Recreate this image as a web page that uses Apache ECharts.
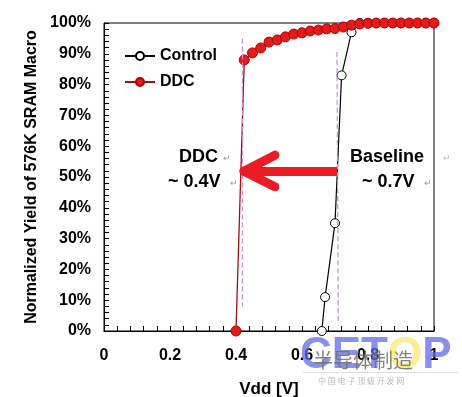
<!DOCTYPE html>
<html>
<head>
<meta charset="utf-8">
<script src="https://cdn.jsdelivr.net/npm/echarts@6/dist/echarts.min.js"></script>
<style>html,body{margin:0;padding:0;background:#fff}#c{width:462px;height:397px}</style>
</head>
<body>
<div id="c"></div>
<script>
// ---- data ----
var xTicks = [0, 0.2, 0.4, 0.6, 0.8, 1];
var yTicks = [0, 10, 20, 30, 40, 50, 60, 70, 80, 90, 100];
var ctrlX = [0.66, 0.67, 0.70, 0.72, 0.75, 0.775, 0.8, 0.825, 0.85, 0.875, 0.9, 0.925, 0.95, 0.975, 1.0];
var ctrlY = [0, 11, 35, 83, 97, 100, 100, 100, 100, 100, 100, 100, 100, 100, 100];
var ddcX = [0.4, 0.425, 0.45, 0.475, 0.5, 0.525, 0.55, 0.575, 0.6, 0.625, 0.65, 0.675, 0.7, 0.725, 0.75, 0.775, 0.8, 0.825, 0.85, 0.875, 0.9, 0.925, 0.95, 0.975, 1.0];
var ddcY = [0, 88, 90.3, 91.9, 93.8, 94.5, 95.5, 96.4, 96.8, 97.4, 97.7, 98.1, 98.2, 98.7, 99.3, 99.7, 99.9, 100, 100, 100, 100, 100, 100, 100, 100];
var guideDDC = [[0.418, 95], [0.418, 8]];
var guideBase = [[0.706, 90.6], [0.71, 3]];
var arrowShaft = [[0.706, 51.9], [0.43, 51.9]];
var arrowArmUp = [[0.424, 51.9], [0.518, 57.1]];
var arrowArmDown = [[0.424, 51.9], [0.518, 46.8]];

function zip(a, b) { return a.map(function (v, i) { return [v, b[i]]; }); }
var FF = 'Liberation Sans, Arial, sans-serif';

var chart = echarts.init(document.getElementById('c'), null, {renderer: 'canvas'});
chart.setOption({
  backgroundColor: '#fff',
  animation: false,
  grid: {left: 104, right: 28, top: 23, bottom: 66, show: true, borderColor: '#000', borderWidth: 1,
    containLabel: false, outerBoundsMode: 'none'},
  legend: {
    data: ['Control', 'DDC'], orient: 'vertical', left: 124, top: 48, padding: 0,
    itemWidth: 30, itemHeight: 10, itemGap: 10,
    textStyle: {fontFamily: FF, fontWeight: 'bold', fontSize: 16, color: '#000'}
  },
  xAxis: {
    type: 'value', min: 0, max: 1, interval: 0.2,
    name: 'Vdd [V]', nameLocation: 'middle', nameGap: 50,
    nameTextStyle: {fontFamily: FF, fontWeight: 'bold', fontSize: 17, color: '#000'},
    axisLine: {lineStyle: {color: '#000', width: 1}},
    axisTick: {inside: true, length: 5, lineStyle: {color: '#000'}},
    minorTick: {show: true, splitNumber: 5, length: 5, lineStyle: {color: '#000'}},
    splitLine: {show: false},
    axisLabel: {margin: 17, fontFamily: FF, fontWeight: 'bold', fontSize: 16, color: '#000',
      formatter: function (v) { return xTicks.indexOf(+v.toFixed(1)) >= 0 ? String(+v.toFixed(1)) : ''; }}
  },
  yAxis: {
    type: 'value', min: 0, max: 100, interval: 10,
    name: 'Normalized Yield of 576K SRAM Macro', nameLocation: 'middle', nameGap: 63, nameRotate: 90,
    nameTextStyle: {fontFamily: FF, fontWeight: 'bold', fontSize: 16, color: '#000'},
    axisLine: {show: true, lineStyle: {color: '#000', width: 1}},
    axisTick: {inside: true, length: 5, lineStyle: {color: '#000'}},
    minorTick: {show: true, splitNumber: 5, length: 5, lineStyle: {color: '#000'}},
    splitLine: {show: false},
    axisLabel: {margin: 13, fontFamily: FF, fontWeight: 'bold', fontSize: 16, color: '#000',
      formatter: function (v) { return yTicks.indexOf(Math.round(v)) >= 0 ? Math.round(v) + '%' : ''; }}
  },
  series: [
    {
      name: 'Control', type: 'line', data: zip(ctrlX, ctrlY),
      symbol: 'circle', symbolSize: 9,
      itemStyle: {color: '#fff', borderColor: '#000', borderWidth: 1},
      lineStyle: {color: '#000', width: 1.2},
      z: 2,
      markLine: {
        silent: true, symbol: ['none', 'none'], label: {show: false},
        lineStyle: {color: '#cf8ad0', type: [5, 3], width: 1.2},
        data: [
          [{coord: guideDDC[0]}, {coord: guideDDC[1]}],
          [{coord: guideBase[0]}, {coord: guideBase[1]}]
        ]
      }
    },
    {
      name: 'DDC', type: 'line', data: zip(ddcX, ddcY),
      symbol: 'circle', symbolSize: 10,
      itemStyle: {color: '#e31b1b', borderColor: '#b00000', borderWidth: 1},
      lineStyle: {color: '#9e1010', width: 1.3},
      z: 3,
      markLine: {
        silent: true, symbol: ['none', 'none'], label: {show: false},
        lineStyle: {color: '#ec1c24', type: 'solid', width: 9, cap: 'round'},
        data: [
          [{coord: arrowShaft[0], lineStyle: {cap: 'butt'}}, {coord: arrowShaft[1]}],
          [{coord: arrowArmUp[0]}, {coord: arrowArmUp[1]}],
          [{coord: arrowArmDown[0]}, {coord: arrowArmDown[1]}]
        ]
      }
    }
  ],
  graphic: [
    {type: 'text', left: 179, top: 148, style: {text: 'DDC', font: 'bold 18px ' + FF, fill: '#000'}},
    {type: 'text', left: 223, top: 154, style: {text: '↵', font: '9px ' + FF, fill: '#999'}},
    {type: 'text', left: 168, top: 173, style: {text: '~ 0.4V', font: 'bold 18px ' + FF, fill: '#000'}},
    {type: 'text', left: 230, top: 179, style: {text: '↵', font: '9px ' + FF, fill: '#999'}},
    {type: 'text', left: 350, top: 148, style: {text: 'Baseline', font: 'bold 18px ' + FF, fill: '#000'}},
    {type: 'text', left: 443, top: 154, style: {text: '↵', font: '9px ' + FF, fill: '#bbb'}},
    {type: 'text', left: 362, top: 173, style: {text: '~ 0.7V', font: 'bold 18px ' + FF, fill: '#000'}},
    {type: 'text', left: 424, top: 179, style: {text: '↵', font: '9px ' + FF, fill: '#999'}},
    // watermark
    {type: 'text', left: 300, top: 334, z: 100, style: {
      text: '{b|CET}{y|O}{b|P}',
      rich: {
        b: {font: 'bold 44px ' + FF, fill: 'rgba(100,105,230,0.75)'},
        y: {font: 'bold 44px ' + FF, fill: 'rgba(250,235,120,0.8)'}
      }
    }},
    {type: 'text', left: 313, top: 350, z: 101, style: {text: '半导体制造', font: '20px "Noto Sans CJK SC"', fill: 'rgba(110,110,110,0.85)'}},
    {type: 'rect', z: 100, shape: {x: 303, y: 372, width: 155, height: 1}, style: {fill: 'rgba(200,200,200,0.6)'}},
    {type: 'text', left: 318, top: 377, z: 101, style: {text: '中 国 电 子 顶 级 开 发 网', font: '8px "Noto Sans CJK SC"', fill: 'rgba(170,170,170,0.8)'}}
  ]
});
</script>
</body>
</html>
